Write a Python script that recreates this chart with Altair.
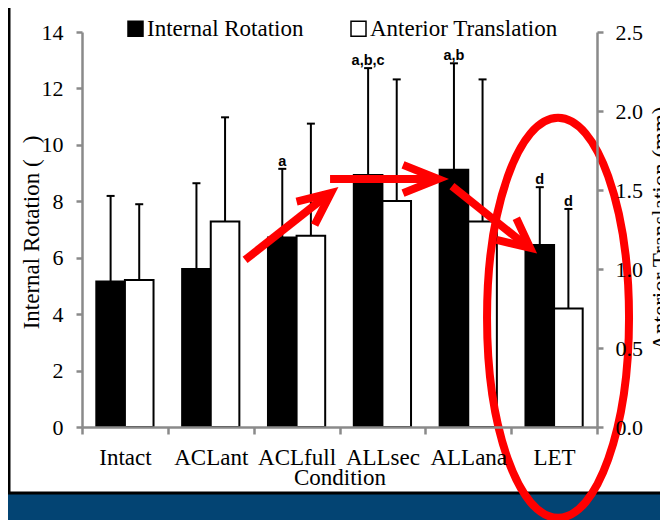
import altair as alt
import pandas as pd

# ---------------- data ----------------
conditions = ["Intact", "ACLant", "ACLfull", "ALLsec", "ALLana", "LET"]
series = ["Internal Rotation", "Anterior Translation"]

ir_mean = [5.16, 5.60, 6.72, 8.93, 9.12, 6.45]
ir_top = [8.19, 8.64, 9.15, 12.72, 12.89, 8.50]
ir_sig = ["", "", "a", "a,b,c", "a,b", "d"]

at_mean = [0.93, 1.30, 1.21, 1.43, 1.30, 0.75]
at_top = [1.41, 1.96, 1.92, 2.20, 2.20, 1.38]
at_sig = ["", "", "", "", "", "d"]

# red annotations: x in category units (0..6), y in left-axis units (0..14)
arrow_id = [1, 2, 3]
arrow_x0 = [1.90, 2.89, 4.31]
arrow_y0 = [5.92, 8.79, 8.54]
arrow_x1 = [2.88, 4.12, 5.20]
arrow_y1 = [8.27, 8.79, 6.37]
wing1_x = [2.50, 3.74, 5.06]
wing1_y = [7.99, 9.29, 7.40]
tip_x = [2.90, 4.15, 5.22]
tip_y = [8.29, 8.79, 6.35]
wing2_x = [2.71, 3.74, 4.83]
wing2_y = [7.16, 8.29, 6.63]
ellipse_x = [5.546]
ellipse_y = [3.87]

# ---------------- tables ----------------
df_ir = pd.DataFrame({"condition": conditions, "series": series[0],
                      "mean": ir_mean, "top": ir_top, "sig": ir_sig})
df_at = pd.DataFrame({"condition": conditions, "series": series[1],
                      "mean": at_mean, "top": at_top, "sig": at_sig})
df_arrows = pd.DataFrame({"id": arrow_id, "x0": arrow_x0, "y0": arrow_y0,
                          "x1": arrow_x1, "y1": arrow_y1})
heads = []
for i in range(len(arrow_id)):
    heads.append({"id": arrow_id[i], "o": 0, "hx": wing1_x[i], "hy": wing1_y[i]})
    heads.append({"id": arrow_id[i], "o": 1, "hx": tip_x[i], "hy": tip_y[i]})
    heads.append({"id": arrow_id[i], "o": 2, "hx": wing2_x[i], "hy": wing2_y[i]})
df_heads = pd.DataFrame(heads)
df_ell = pd.DataFrame({"ex": ellipse_x, "ey": ellipse_y})
df_one = pd.DataFrame({"k": [0]})

SERIF = "Liberation Serif"
GRAY = "#8a8a8a"
FS = 23

x_axis = alt.Axis(title="Condition", tickBand="extent", domainColor=GRAY, domainWidth=2.5,
                  tickColor=GRAY, tickWidth=2.5, tickSize=7, labelAngle=0, zindex=1,
                  labelFont=SERIF, labelFontSize=FS, labelColor="black",
                  labelBaseline="alphabetic", labelPadding=30,
                  titleFont=SERIF, titleFontSize=FS, titleFontWeight="normal",
                  titleColor="black", titleBaseline="alphabetic", titleY=57)
xenc = alt.X("condition:N", sort=conditions,
             scale=alt.Scale(domain=conditions, paddingInner=0, paddingOuter=0),
             axis=x_axis)
xoff = alt.XOffset("series:N", scale=alt.Scale(domain=series, paddingInner=0, paddingOuter=0.5))
color = alt.Color("series:N", scale=alt.Scale(domain=series, range=["black", "white"]),
                  legend=alt.Legend(orient="none", legendX=42, legendY=-15, direction="horizontal",
                                    title=None, symbolType="square", symbolSize=225,
                                    symbolStrokeColor="black", symbolStrokeWidth=1.5,
                                    labelFont=SERIF, labelFontSize=FS, labelColor="black",
                                    labelOffset=0, columnPadding=43, padding=0, labelLimit=400))

left_axis = alt.Axis(values=list(range(0, 15, 2)), title="Internal Rotation (\u2002\u2009)",
                     grid=False, domainColor=GRAY, domainWidth=2.5, tickColor=GRAY, zindex=1,
                     tickWidth=2.5, tickSize=6, labelFont=SERIF, labelFontSize=22,
                     labelColor="black", labelPadding=13, titleFont=SERIF, titleFontSize=FS,
                     titleFontWeight="normal", titleColor="black", titleAngle=270,
                     titleX=-44, titleY=200, titleBaseline="alphabetic", titleAlign="center")
right_axis = alt.Axis(orient="right", values=[0, 0.5, 1.0, 1.5, 2.0, 2.5], format=".1f",
                      title="Anterior Translation (mm)", grid=False, domainColor=GRAY, zindex=1,
                      domainWidth=2.5, tickColor=GRAY, tickWidth=2.5, tickSize=6,
                      labelFont=SERIF, labelFontSize=22, labelColor="black", labelPadding=12,
                      titleFont=SERIF, titleFontSize=FS, titleFontWeight="normal",
                      titleColor="black", titleAngle=270, titleX=70, titleY=196,
                      titleBaseline="alphabetic", titleAlign="center")


def panel(df, yscale, yaxis):
    y = alt.Y("mean:Q", scale=yscale, axis=yaxis)
    bars = alt.Chart(df).mark_bar(stroke="black", strokeWidth=2).encode(
        x=xenc, xOffset=xoff, y=y, color=color)
    err = alt.Chart(df).mark_rule(color="black", strokeWidth=2).encode(
        x=xenc, xOffset=xoff, y=alt.Y("mean:Q", scale=yscale), y2="top:Q")
    caps = alt.Chart(df).mark_tick(color="black", thickness=2, size=8, orient="horizontal",
                                   opacity=1).encode(
        x=xenc, xOffset=xoff, y=alt.Y("top:Q", scale=yscale))
    labs = alt.Chart(df).mark_text(font="Liberation Sans", fontWeight="bold", fontSize=14.5,
                                   baseline="alphabetic", dy=-3, color="black").encode(
        x=xenc, xOffset=xoff, y=alt.Y("top:Q", scale=yscale), text="sig:N")
    return alt.layer(bars, err, caps, labs)


left = panel(df_ir, alt.Scale(domain=[0, 14], nice=False), left_axis)
right = panel(df_at, alt.Scale(domain=[0, 2.5], nice=False), right_axis)
main = alt.layer(left, right).resolve_scale(y="independent")

ax = alt.Scale(domain=[0, 6], nice=False, zero=False)
ay = alt.Scale(domain=[0, 14], nice=False, zero=False)
shafts = alt.Chart(df_arrows).mark_rule(color="#ff0000", strokeWidth=8, strokeCap="butt").encode(
    x=alt.X("x0:Q", scale=ax, axis=None), y=alt.Y("y0:Q", scale=ay, axis=None),
    x2="x1:Q", y2="y1:Q")
arrowheads = alt.Chart(df_heads).mark_line(color="#ff0000", strokeWidth=8, strokeJoin="miter",
                                           strokeCap="butt").encode(
    x=alt.X("hx:Q", scale=ax, axis=None), y=alt.Y("hy:Q", scale=ay, axis=None),
    detail="id:N", order="o:Q")
ell_path = ("M0,-1C0.196,-1 0.355,-0.552 0.355,0C0.355,0.552 0.196,1 0,1"
            "C-0.196,1 -0.355,0.552 -0.355,0C-0.355,-0.552 -0.196,-1 0,-1Z")
ellipse = alt.Chart(df_ell).mark_point(shape=ell_path, size=160000, filled=False,
                                       stroke="#ff0000", strokeWidth=8, opacity=1).encode(
    x=alt.X("ex:Q", scale=ax, axis=None), y=alt.Y("ey:Q", scale=ay, axis=None))
ann = alt.layer(shafts, arrowheads, ellipse)

sheet = alt.Chart(df_one).mark_rect(fill="white", stroke="black", strokeWidth=3).encode(
    x=alt.value(-73), x2=alt.value(620), y=alt.value(-60), y2=alt.value(461))

chart = alt.layer(sheet, main, ann).resolve_scale(x="independent", y="independent").properties(
    width=515, height=395,
    padding={"left": 74, "top": 24, "right": 63, "bottom": 93},
    autosize=alt.AutoSizeParams(type="none"),
    background="#034473",
).configure_view(stroke=None)

chart.save("out.html", embed_options={"renderer": "svg", "actions": False})
